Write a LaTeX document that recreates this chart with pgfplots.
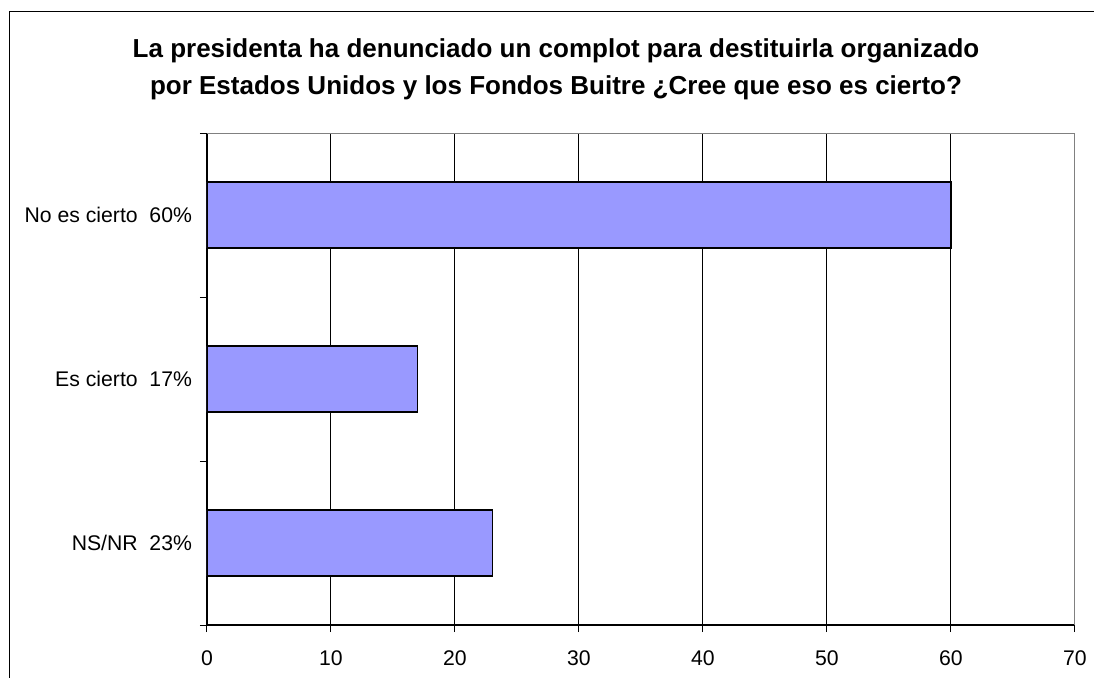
\documentclass[border=0pt]{standalone}
\usepackage{fontspec}
\setmainfont{Liberation Sans}
\usepackage{pgfplots}
\pgfplotsset{compat=1.18}
\definecolor{barblue}{RGB}{153,153,255}
\begin{document}
\begin{tikzpicture}
\useasboundingbox (0,0) rectangle (547pt,338.5pt);
% outer frame (right and bottom edges fall outside the picture)
\draw[black, line width=0.6pt] (4.6pt,-20pt) -- (4.6pt,332.6pt) -- (580pt,332.6pt);
\node[anchor=base, font=\fontsize{13}{15}\selectfont\bfseries] at (278pt,310pt)
  {La presidenta ha denunciado un complot para destituirla organizado};
\node[anchor=base, font=\fontsize{13}{15}\selectfont\bfseries] at (278pt,291.5pt)
  {por Estados Unidos y los Fondos Buitre ¿Cree que eso es cierto?};
\begin{axis}[
    at={(103.5pt,26pt)}, anchor=south west,
    scale only axis, width=434pt, height=246pt,
    xbar, bar width=33pt,
    xmin=0, xmax=70, ymin=0.5, ymax=3.5,
    xtick={0,10,...,70},
    xmajorgrids, major grid style={black, line width=0.5pt},
    axis x line*=bottom, axis y line*=left,
    axis line style={black, line width=0.6pt, -},
    tick style={black, line width=0.5pt},
    tick align=outside, major tick length=3.5pt,
    ytick={0.5,1.5,2.5,3.5}, yticklabels={},
    extra y ticks={1,2,3},
    extra y tick labels={NS/NR~ 23\%, Es cierto~ 17\%, No es cierto~ 60\%},
    extra y tick style={major tick length=0pt},
    ticklabel style={font=\fontsize{10.6}{12}\selectfont},
    /pgf/number format/assume math mode=true,
    yticklabel style={xshift=-4pt},
    xticklabel style={yshift=-6pt},
]
\addplot[fill=barblue, draw=black, line width=0.6pt] coordinates {
    (23,1) (17,2) (60,3)
};
\draw[gray, line width=0.6pt] (rel axis cs:0,1) -- (rel axis cs:1,1) -- (rel axis cs:1,0);
\end{axis}
\end{tikzpicture}
\end{document}
